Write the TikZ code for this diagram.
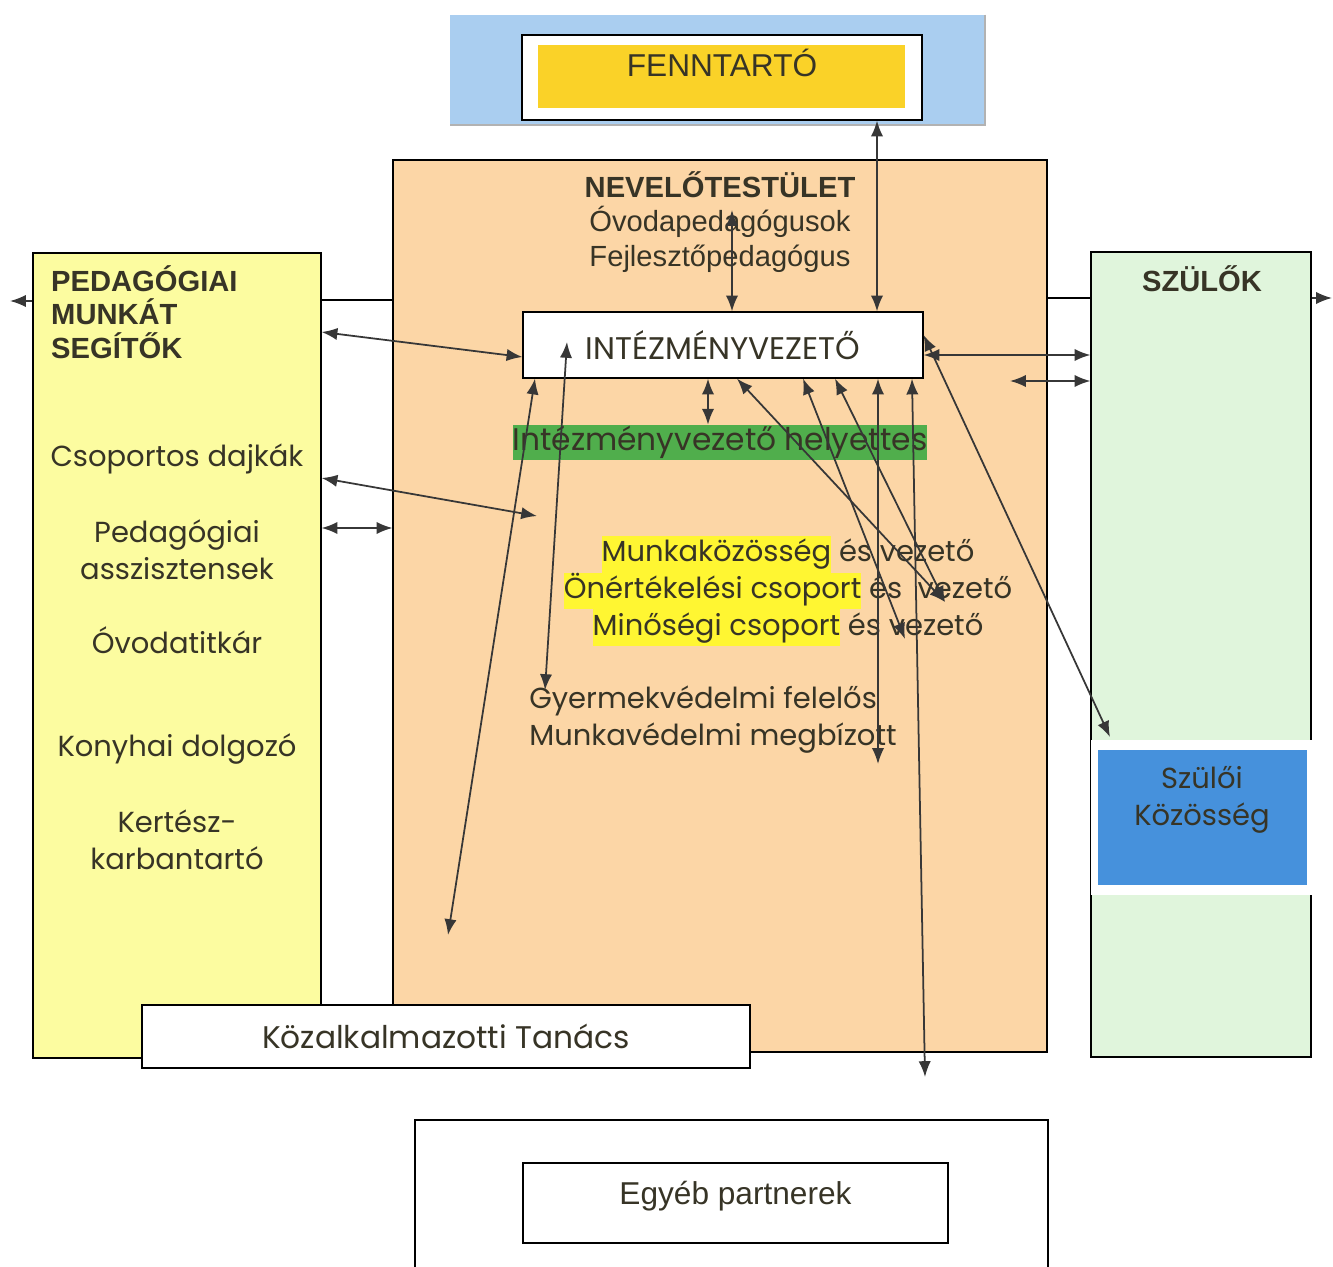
\documentclass[tikz,border=0pt]{standalone}
\usepackage{fontspec}
\setmainfont{Liberation Sans}
\newfontfamily\gothic{Poppins}
\usetikzlibrary{arrows.meta}
\definecolor{kekhatter}{RGB}{170,206,240}
\definecolor{sarga}{RGB}{250,210,40}
\definecolor{barack}{RGB}{252,214,166}
\definecolor{halvanysarga}{RGB}{252,252,160}
\definecolor{halvanyzold}{RGB}{224,245,220}
\definecolor{zold}{RGB}{80,174,76}
\definecolor{kek}{RGB}{70,145,220}
\definecolor{kiemeles}{RGB}{255,246,50}
\definecolor{szoveg}{RGB}{55,52,38}
\definecolor{nyilszin}{RGB}{55,55,55}
\newcommand{\kiemel}[1]{{\setlength{\fboxsep}{0pt}\colorbox{kiemeles}{\strut #1}}}

\begin{document}
\begin{tikzpicture}[x=0.02cm,y=-0.02cm,
    doboz/.style={draw=black,line width=0.7pt,inner sep=0pt},
    gotikus/.style={font=\gothic\fontsize{16.5}{21}\selectfont,text=szoveg},
    nagygotikus/.style={font=\gothic\fontsize{17.8}{21}\selectfont,text=szoveg},
    arial/.style={font=\fontsize{16.6}{19.5}\selectfont,text=szoveg},
    arialkover/.style={font=\bfseries\fontsize{16.6}{19.3}\selectfont,text=szoveg},
    nyil/.style={<->,>={Latex[length=9pt,width=7pt]},draw=nyilszin,line width=1pt},
    egyiranyu/.style={->,>={Latex[length=9pt,width=7pt]},draw=nyilszin,line width=1pt}]
    \useasboundingbox (0,0) rectangle (1333,1267);

    % fenntarto
    \node[fill=kekhatter,minimum width=10.7cm,minimum height=2.2cm] (hatter) at (717.5,70) {};
    \draw[gray!60,line width=1pt] (hatter.north east) -- (hatter.south east) -- (hatter.south west);
    \node[doboz,fill=white,minimum width=8cm,minimum height=1.7cm] (fenn) at (722,77.5) {};
    \node[fill=sarga,minimum width=7.34cm,minimum height=1.26cm] (fennbelso) at (721.5,76.5) {};
    \node[arial,font=\fontsize{18}{20}\selectfont] (fenntxt) at (722,63) {FENNTARTÓ};

    % nevelotestulet
    \node[doboz,fill=barack,minimum width=13.08cm,minimum height=17.84cm] (nev) at (720,606) {};
    \node[arial,align=center] (nevtxt) at (720,222) {\textbf{NEVELŐTESTÜLET}\\Óvodapedagógusok\\Fejlesztőpedagógus};
    \node[doboz,fill=white,minimum width=8cm,minimum height=1.32cm,nagygotikus] (iv) at (723,345) {INTÉZMÉNYVEZETŐ};
    \node[fill=zold,minimum width=8.28cm,minimum height=0.7cm,inner sep=0pt,nagygotikus] (helyettes) at (720,442.5) {Intézményvezető helyettes};
    \node[gotikus,align=center] (csoportok) at (788,591) {\kiemel{Munkaközösség} és vezető\\ \kiemel{Önértékelési csoport} és \ vezető\\ \kiemel{Minőségi csoport} és vezető\hspace{0.8em}};
    \node[gotikus,align=left,anchor=west,inner sep=0pt] (vedelem) at (529,720) {Gyermekvédelmi felelős\\Munkavédelmi megbízott};

    % pedagogiai munkat segitok
    \node[doboz,fill=halvanysarga,minimum width=5.76cm,minimum height=16.1cm] (segito) at (177,655.5) {};
    \node[arialkover,align=left,anchor=north west] (segitotxt) at (45,259) {PEDAGÓGIAI\\MUNKÁT\\SEGÍTŐK};
    \node[gotikus] (dajka) at (177,459) {Csoportos dajkák};
    \node[gotikus,align=center] (asszisztens) at (177,550) {Pedagógiai\\asszisztensek};
    \node[gotikus] (titkar) at (177,640) {Óvodatitkár};
    \node[gotikus] (konyha) at (177,749) {Konyhai dolgozó};
    \node[gotikus,align=center] (kertesz) at (177,839.5) {Kertész-\\karbantartó};

    % szulok
    \node[doboz,fill=halvanyzold,minimum width=4.4cm,minimum height=16.1cm] (szulo) at (1201,654.5) {};
    \node[arialkover] (szulotxt) at (1202,279) {SZÜLŐK};
    \node[fill=white,minimum width=4.5cm,minimum height=3.1cm] (kozkeret) at (1203.5,817.5) {};
    \node[fill=kek,minimum width=4.18cm,minimum height=2.7cm] (kozosseg) at (1202.5,817.5) {};
    \node[gotikus,align=center] (koztxt) at (1202,800) {Szülői\\Közösség};

    % kozalkalmazotti tanacs
    \node[doboz,fill=white,minimum width=12.16cm,minimum height=1.26cm,nagygotikus] (kt) at (446,1036.5) {Közalkalmazotti Tanács};

    % egyeb partnerek
    \draw[line width=0.7pt] (415,1267) |- (1048,1120) -- (1048,1267);
    \node[doboz,minimum width=8.5cm,minimum height=1.6cm,text depth=12pt,arial,font=\fontsize{18}{20}\selectfont] (egyeb) at (735.5,1203) {Egyéb partnerek};

    % szabad vegpontok
    \coordinate (balki) at (10,301);
    \coordinate (jobbki) at (1332,298);
    \coordinate (ovp) at (732,210);
    \coordinate (nevbal) at (537,516);
    \coordinate (nevjobb) at (1010,381);
    \coordinate (kozfel) at (1110,737);
    \coordinate (ktfel) at (448,935);
    \coordinate (ivbent) at (567,342);
    \coordinate (gyv) at (545,690);
    \coordinate (onert) at (945,602);
    \coordinate (minos) at (905,639);
    \coordinate (munkav) at (878,764);
    \coordinate (lent) at (925,1077);

    % kapcsolatok
    \draw[line width=0.7pt] (segito.east |- 0,300) -- (nev.west |- 0,300);
    \draw[line width=0.7pt] (nev.east |- 0,298) -- (szulo.west |- 0,298);
    \draw[egyiranyu] (segito.west |- 0,301) -- (balki);
    \draw[egyiranyu] (szulo.east |- 0,298) -- (jobbki);
    \draw[nyil] (fenn.south -| 877,0) -- (iv.north -| 877,0);
    \draw[nyil] (ovp) -- (iv.north -| 732,0);
    \draw[nyil] (segito.east |- 0,332) -- (iv.west |- 0,357);
    \draw[nyil] (segito.east |- 0,478) -- (nevbal);
    \draw[nyil] (segito.east |- 0,528) -- (nev.west |- 0,528);
    \draw[nyil] (iv.east |- 0,355) -- (szulo.west |- 0,355);
    \draw[nyil] (nevjobb) -- (szulo.west |- 0,381);
    \draw[nyil] (iv.east |- 0,335) -- (kozfel);
    \draw[nyil] (iv.south -| 535,0) -- (ktfel);
    \draw[nyil] (ivbent) -- (gyv);
    \draw[nyil] (iv.south -| 708,0) -- (helyettes.north -| 708,0);
    \draw[nyil] (iv.south -| 737,0) -- (onert);
    \draw[nyil] (iv.south -| 803,0) -- (minos);
    \draw[nyil] (iv.south -| 835,0) -- (onert);
    \draw[nyil] (iv.south -| 878,0) -- (munkav);
    \draw[nyil] (iv.south -| 912,0) -- (lent);
\end{tikzpicture}
\end{document}
